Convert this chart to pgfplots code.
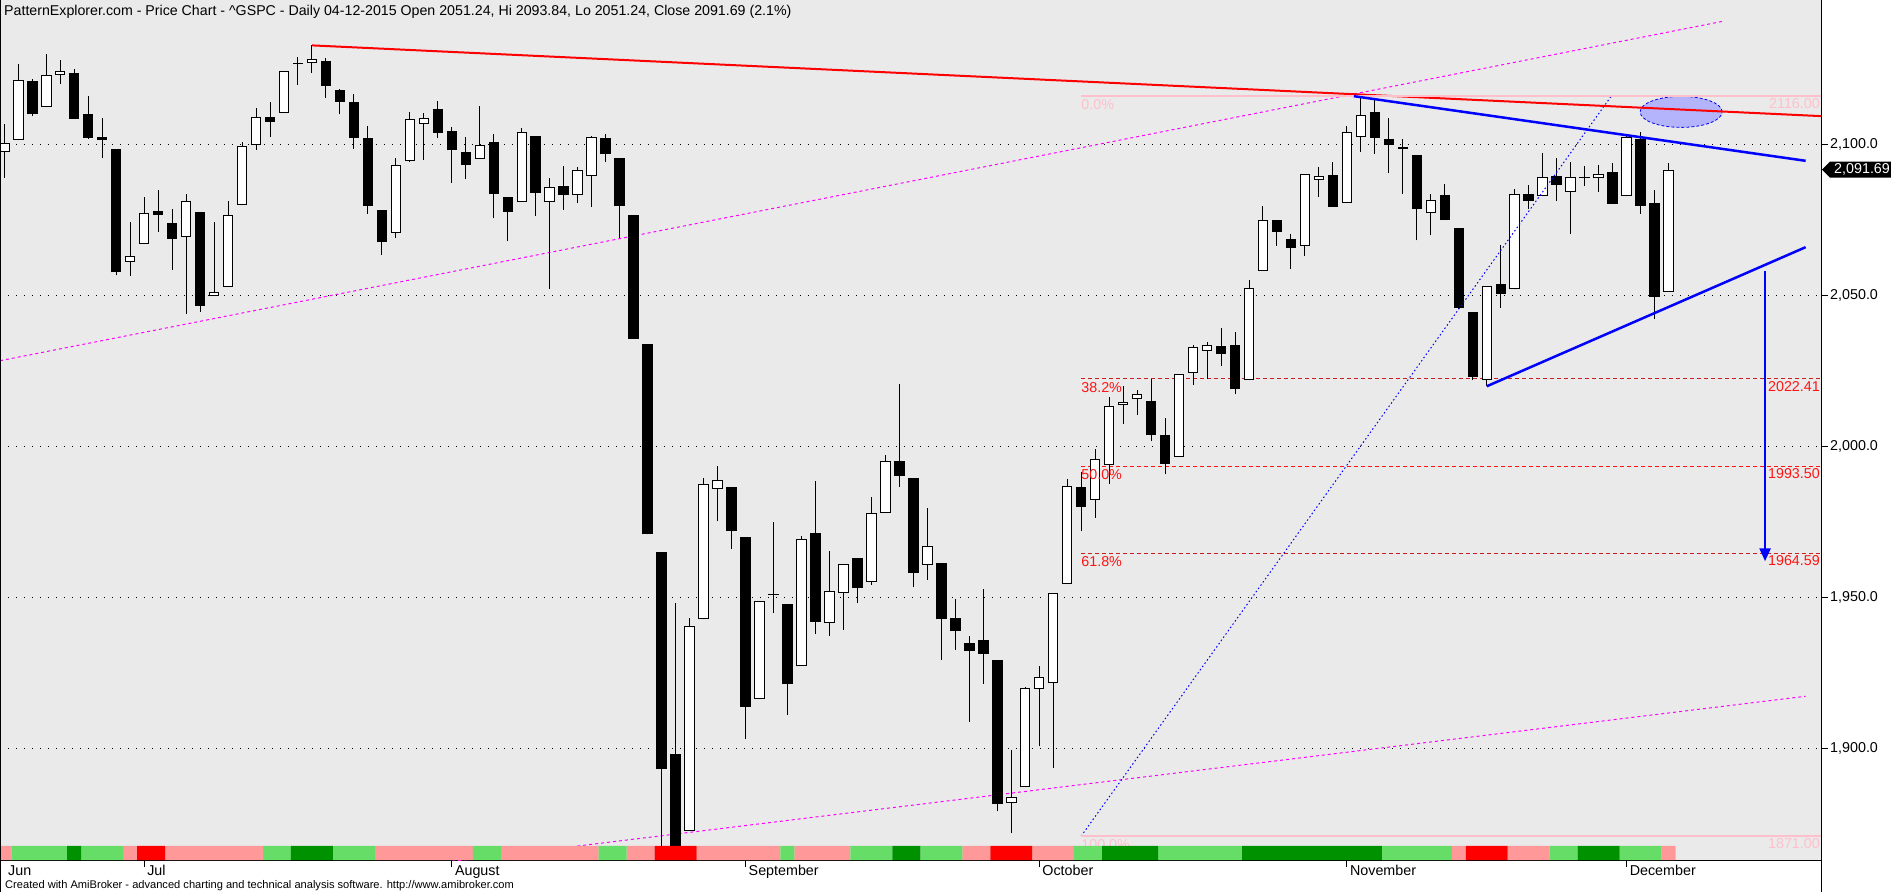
\documentclass[border=0pt]{standalone}
\usepackage{pgfplots}
\pgfplotsset{compat=1.18}
\usepackage{pgfplotstable}
\usepackage{fontspec}
\setmainfont{Liberation Sans}
\usetikzlibrary{arrows.meta}
\definecolor{bg}{RGB}{234,234,234}
\definecolor{lgreen}{RGB}{102,221,102}
\definecolor{dgreen}{RGB}{0,145,0}
\definecolor{lred}{RGB}{255,153,153}
\definecolor{fibpink}{RGB}{255,192,203}
\definecolor{fibred}{RGB}{255,20,20}
\definecolor{fibdark}{RGB}{200,30,30}
\definecolor{ellfill}{RGB}{180,180,252}
\definecolor{magentaline}{RGB}{255,0,255}

\pgfplotstableread{
i O H L C
0 2097.40 2106.79 2088.86 2100.44
1 2101.58 2126.65 2101.58 2121.24
2 2121.06 2121.64 2109.45 2109.99
3 2112.50 2129.87 2112.50 2122.85
4 2123.16 2128.03 2119.89 2124.20
5 2123.65 2125.10 2108.58 2108.58
6 2109.96 2116.04 2101.78 2102.31
7 2102.62 2108.92 2095.38 2101.49
8 2098.63 2098.63 2056.64 2057.64
9 2061.19 2074.28 2056.32 2063.11
10 2067.00 2082.78 2067.00 2077.42
11 2078.03 2085.06 2071.02 2076.78
12 2073.95 2078.61 2058.40 2068.76
13 2069.52 2083.74 2044.02 2081.34
14 2077.66 2077.66 2044.66 2046.68
15 2049.73 2074.28 2049.73 2051.31
16 2052.74 2081.31 2052.74 2076.62
17 2080.03 2100.67 2080.03 2099.60
18 2099.72 2111.98 2098.30 2108.95
19 2109.02 2114.14 2102.49 2107.40
20 2110.55 2124.42 2110.55 2124.29
21 2126.80 2128.91 2119.70 2126.64
22 2126.85 2132.82 2123.66 2128.28
23 2127.55 2128.72 2115.40 2119.21
24 2118.21 2118.51 2110.00 2114.15
25 2114.16 2116.87 2098.63 2102.15
26 2102.24 2106.01 2077.09 2079.65
27 2078.19 2078.19 2063.52 2067.64
28 2070.75 2095.60 2069.09 2093.25
29 2094.70 2110.60 2094.08 2108.57
30 2106.78 2110.48 2094.97 2108.63
31 2111.60 2114.24 2102.07 2103.84
32 2104.49 2105.70 2087.31 2098.04
33 2097.68 2102.51 2088.60 2093.32
34 2095.27 2112.66 2095.27 2099.84
35 2100.75 2103.32 2075.53 2083.56
36 2082.61 2082.61 2067.91 2077.57
37 2080.98 2105.35 2080.98 2104.18
38 2102.66 2102.66 2076.49 2084.07
39 2081.10 2089.06 2052.09 2086.05
40 2086.19 2092.93 2078.26 2083.39
41 2083.15 2092.45 2080.61 2091.54
42 2089.70 2102.87 2079.30 2102.44
43 2101.99 2103.47 2094.14 2096.92
44 2095.69 2095.69 2069.09 2079.61
45 2076.61 2076.61 2035.73 2035.73
46 2034.08 2034.08 1970.89 1970.89
47 1965.15 1965.15 1867.01 1893.21
48 1898.08 1948.04 1867.08 1867.61
49 1872.75 1943.09 1872.75 1940.51
50 1942.77 1989.60 1942.77 1987.66
51 1986.06 1993.48 1975.19 1988.87
52 1986.73 1986.73 1965.98 1972.18
53 1970.09 1970.09 1903.07 1913.85
54 1916.52 1948.91 1916.52 1948.86
55 1950.79 1975.01 1944.72 1951.13
56 1947.76 1947.76 1911.21 1921.22
57 1927.30 1970.42 1927.30 1969.41
58 1971.45 1988.63 1937.88 1942.04
59 1941.59 1965.29 1937.19 1952.29
60 1951.45 1961.05 1939.19 1961.05
61 1963.06 1963.06 1948.27 1953.03
62 1955.10 1983.19 1954.30 1978.09
63 1978.02 1997.26 1977.93 1995.31
64 1995.33 2020.86 1986.73 1990.20
65 1989.66 1989.66 1953.45 1958.03
66 1960.84 1979.64 1955.80 1966.97
67 1961.39 1961.39 1929.22 1942.74
68 1943.24 1949.52 1932.57 1938.76
69 1934.81 1937.17 1908.92 1932.24
70 1935.93 1952.89 1921.50 1931.34
71 1929.18 1929.18 1879.21 1881.77
72 1881.90 1899.48 1871.91 1884.09
73 1887.14 1920.53 1887.14 1920.03
74 1919.65 1927.21 1900.70 1923.82
75 1921.77 1951.36 1893.70 1951.36
76 1954.33 1989.17 1954.33 1987.05
77 1986.63 1991.62 1971.99 1979.92
78 1982.34 1999.31 1976.44 1995.83
79 1994.01 2016.50 1987.53 2013.43
80 2013.73 2020.13 2007.61 2014.89
81 2015.65 2018.66 2010.55 2017.46
82 2015.00 2022.34 2001.78 2003.69
83 2003.66 2009.56 1990.73 1994.24
84 1996.47 2024.15 1996.47 2023.86
85 2024.37 2033.54 2020.46 2033.11
86 2031.73 2034.45 2022.31 2033.66
87 2033.13 2039.12 2026.61 2030.77
88 2033.47 2037.97 2017.22 2018.94
89 2021.88 2055.20 2021.88 2052.51
90 2058.19 2079.74 2058.19 2075.15
91 2075.08 2075.14 2066.53 2071.18
92 2068.75 2070.37 2058.84 2065.89
93 2066.48 2090.35 2063.11 2090.35
94 2088.35 2092.52 2082.63 2089.41
95 2090.00 2094.32 2079.34 2079.36
96 2080.76 2106.20 2080.76 2104.05
97 2102.63 2116.48 2097.51 2109.79
98 2110.60 2114.59 2096.98 2102.31
99 2101.68 2108.78 2090.41 2099.93
100 2098.60 2101.91 2083.74 2099.20
101 2096.56 2096.56 2068.24 2078.58
102 2077.19 2083.67 2069.91 2081.72
103 2083.41 2086.94 2074.85 2075.00
104 2072.29 2072.29 2045.66 2045.97
105 2044.64 2044.64 2022.02 2023.04
106 2022.08 2053.22 2019.94 2053.19
107 2053.67 2066.69 2045.90 2050.44
108 2051.99 2085.31 2051.99 2083.58
109 2083.70 2086.74 2078.76 2081.24
110 2082.82 2097.06 2082.82 2089.17
111 2089.41 2095.61 2081.39 2086.59
112 2084.42 2094.12 2070.29 2089.14
113 2089.30 2093.00 2086.30 2088.87
114 2088.82 2093.29 2084.13 2090.11
115 2090.95 2093.81 2080.41 2080.41
116 2082.93 2103.37 2082.93 2102.63
117 2101.71 2104.27 2077.11 2079.51
118 2080.71 2085.00 2042.35 2049.62
119 2051.24 2093.84 2051.24 2091.69
}\spx

\begin{document}
\begin{tikzpicture}
\fill[white] (0,0) rectangle (1891pt,892pt);
\useasboundingbox (0,0) rectangle (1891pt,892pt);
\begin{axis}[
  at={(0pt,32pt)}, anchor=south west,
  width=1821pt, height=860pt, scale only axis,
  xmin=-0.307, xmax=129.9, ymin=1863.08, ymax=2147.85,
  axis background/.style={fill=bg},
  axis x line*=bottom, axis y line*=right,
  axis line style={line width=1pt, black, -},
  xtick={-0.307,10,32,53,74,96,116},
  xticklabels={\hspace{5pt}Jun,Jul,August,September,October,November,December},
  ytick={1900,1950,2000,2050,2100},
  yticklabels={{1,900.0},{1,950.0},{2,000.0},{2,050.0},{2,100.0}},
  tick align=outside, major tick length=7pt,
  tick style={black, line width=1pt},
  ymajorgrids, major grid style={black, line width=1pt, dash pattern=on 1pt off 7pt},
  ticklabel style={font=\fontsize{14.3}{16}\selectfont},
  xticklabel style={anchor=north west, inner sep=0pt, xshift=3pt, yshift=2pt},
  yticklabel style={anchor=west, inner sep=0pt, xshift=2pt},
  clip=true,
]
% fib dashed levels
\addplot[fibdark, line width=1pt, dash pattern=on 4pt off 3pt] coordinates {(77,2022.41) (129.9,2022.41)};
\addplot[fibred, line width=1pt, dash pattern=on 4pt off 3pt] coordinates {(77,1993.50) (129.9,1993.50)};
\addplot[fibdark, line width=1pt, dash pattern=on 4pt off 3pt] coordinates {(77,1964.59) (129.9,1964.59)};
% magenta channel
\addplot[magentaline, line width=1pt, dash pattern=on 3pt off 3pt] coordinates {(-0.307,2028.4) (123.0,2140.9)};
\addplot[magentaline, line width=1pt, dash pattern=on 3pt off 3pt] coordinates {(31.6,1862.4) (128.8,1917.3)};
% wicks
\addplot[draw=none, mark=none, forget plot, error bars/.cd, y dir=plus, y explicit, error mark=none,
  error bar style={draw=black, line width=1pt, solid}]
  table[x=i, y=L, y error expr=\thisrow{H}-\thisrow{L}] {\spx};
% bodies
\addplot[draw=none, mark=none, forget plot, error bars/.cd, y dir=plus, y explicit, error mark=none,
  error bar style={draw=black, line width=10.5pt, solid}]
  table[x=i, y expr={min(\thisrow{O},\thisrow{C})}, y error expr={max(abs(\thisrow{C}-\thisrow{O}),0.4)}] {\spx};
\addplot[draw=none, mark=none, forget plot, error bars/.cd, y dir=plus, y explicit, error mark=none,
  error bar style={draw=white, line width=8.5pt, solid}]
  table[x=i, y expr={min(\thisrow{O},\thisrow{C})+0.33}, y error expr={(\thisrow{C}>\thisrow{O})*max(\thisrow{C}-\thisrow{O}-0.66,0)}] {\spx};
% blue dotted
\addplot[blue, line width=1pt, dash pattern=on 1.5pt off 2.5pt] coordinates {(77,1871) (114.9,2116)};
% ellipse
\draw[blue, line width=0.8pt, densely dashed, fill=ellfill] (axis cs:119.9,2110.8) ellipse [x radius=41pt, y radius=15.5pt];
% red trend
\addplot[red, line width=2pt] coordinates {(22,2132.82) (129.9,2109.4)};
% fib 0 and 100
\addplot[fibpink, line width=2pt] coordinates {(77,2116) (129.9,2116)};
\addplot[fibpink, line width=2pt] coordinates {(77,1871) (129.9,1871)};
% blue triangle lines
\addplot[blue, line width=2.5pt] coordinates {(96.5,2116.0) (128.8,2094.6)};
\addplot[blue, line width=2.5pt] coordinates {(106,2019.94) (128.8,2066.0)};
\addplot[blue, line width=2.5pt, -{Triangle[length=13pt,width=11pt]}] coordinates {(125.9,2058) (125.9,1962)};
% fib labels
\node[anchor=north west, inner sep=0pt, text=fibpink, font=\fontsize{14.3}{16}\selectfont] at ([yshift=-3pt]axis cs:77,2116) {0.0\%};
\node[anchor=north west, inner sep=0pt, text=fibred, font=\fontsize{14.3}{16}\selectfont] at ([yshift=-3pt]axis cs:77,2022.41) {38.2\%};
\node[anchor=north west, inner sep=0pt, text=fibred, font=\fontsize{14.3}{16}\selectfont] at ([yshift=-3pt]axis cs:77,1993.50) {50.0\%};
\node[anchor=north west, inner sep=0pt, text=fibred, font=\fontsize{14.3}{16}\selectfont] at ([yshift=-3pt]axis cs:77,1964.59) {61.8\%};
\node[anchor=north west, inner sep=0pt, text=fibpink, font=\fontsize{14.3}{16}\selectfont] at ([yshift=-3pt]axis cs:77,1871) {100.0\%};
\node[anchor=north east, inner sep=0pt, text=fibpink, font=\fontsize{14.3}{16}\selectfont] at ([xshift=-1pt,yshift=-2pt]axis cs:129.9,2116) {2116.00};
\node[anchor=north east, inner sep=0pt, text=fibred, font=\fontsize{14.3}{16}\selectfont] at ([xshift=-1pt,yshift=-2pt]axis cs:129.9,2022.41) {2022.41};
\node[anchor=north east, inner sep=0pt, text=fibred, font=\fontsize{14.3}{16}\selectfont] at ([xshift=-1pt,yshift=-2pt]axis cs:129.9,1993.50) {1993.50};
\node[anchor=north east, inner sep=0pt, text=fibred, font=\fontsize{14.3}{16}\selectfont] at ([xshift=-1pt,yshift=-2pt]axis cs:129.9,1964.59) {1964.59};
\node[anchor=north east, inner sep=0pt, text=fibpink, font=\fontsize{14.3}{16}\selectfont] at ([xshift=-1pt,yshift=-2pt]axis cs:129.9,1871) {1871.00};
% ribbon
\addplot[ybar, bar width=1, bar shift=0pt, fill=lred, draw=none] coordinates {
(0,1867.72) (9,1867.72) (12,1867.72) (13,1867.72) (14,1867.72) (15,1867.72) (16,1867.72) (17,1867.72) (18,1867.72)
(27,1867.72) (28,1867.72) (29,1867.72) (30,1867.72) (31,1867.72) (32,1867.72) (33,1867.72)
(36,1867.72) (37,1867.72) (38,1867.72) (39,1867.72) (40,1867.72) (41,1867.72) (42,1867.72)
(45,1867.72) (46,1867.72) (50,1867.72) (51,1867.72) (52,1867.72) (53,1867.72) (54,1867.72) (55,1867.72)
(57,1867.72) (58,1867.72) (59,1867.72) (60,1867.72) (69,1867.72) (70,1867.72) (74,1867.72) (75,1867.72) (76,1867.72)
(104,1867.72) (108,1867.72) (109,1867.72) (110,1867.72) (119,1867.72)};
\addplot[ybar, bar width=1, bar shift=0pt, fill=lgreen, draw=none] coordinates {
(1,1867.72) (2,1867.72) (3,1867.72) (4,1867.72) (6,1867.72) (7,1867.72) (8,1867.72) (19,1867.72) (20,1867.72)
(24,1867.72) (25,1867.72) (26,1867.72) (34,1867.72) (35,1867.72) (43,1867.72) (44,1867.72) (56,1867.72)
(61,1867.72) (62,1867.72) (63,1867.72) (66,1867.72) (67,1867.72) (68,1867.72) (77,1867.72) (78,1867.72)
(83,1867.72) (84,1867.72) (85,1867.72) (86,1867.72) (87,1867.72) (88,1867.72)
(99,1867.72) (100,1867.72) (101,1867.72) (102,1867.72) (103,1867.72) (111,1867.72) (112,1867.72)
(116,1867.72) (117,1867.72) (118,1867.72)};
\addplot[ybar, bar width=1, bar shift=0pt, fill=dgreen, draw=none] coordinates {
(5,1867.72) (21,1867.72) (22,1867.72) (23,1867.72) (64,1867.72) (65,1867.72) (79,1867.72) (80,1867.72) (81,1867.72) (82,1867.72)
(89,1867.72) (90,1867.72) (91,1867.72) (92,1867.72) (93,1867.72) (94,1867.72) (95,1867.72) (96,1867.72) (97,1867.72) (98,1867.72)
(113,1867.72) (114,1867.72) (115,1867.72)};
\addplot[ybar, bar width=1, bar shift=0pt, fill=red, draw=none] coordinates {
(10,1867.72) (11,1867.72) (47,1867.72) (48,1867.72) (49,1867.72) (71,1867.72) (72,1867.72) (73,1867.72)
(105,1867.72) (106,1867.72) (107,1867.72)};
\coordinate (tag) at (axis cs:129.9,2091.69);
\end{axis}
% frame extensions
\draw[line width=1pt] (0.5pt,0pt) -- (0.5pt,892pt);
\draw[line width=1pt] (1821pt,0pt) -- (1821pt,32pt);
% price tag
\fill[black] ([xshift=1pt]tag) -- ++(8pt,8pt) -- ++(62pt,0) -- ++(0,-16pt) -- ++(-62pt,0) -- cycle;
\node[anchor=west, inner sep=0pt, text=white, font=\fontsize{14.3}{16}\selectfont] at ([xshift=13pt]tag) {2,091.69};
% title
\node[anchor=base west, inner sep=0pt, font=\fontsize{14.2}{16}\selectfont] at (4pt,876pt)
  {PatternExplorer.com - Price Chart - \string^GSPC - Daily 04-12-2015 Open 2051.24, Hi 2093.84, Lo 2051.24, Close 2091.69 (2.1\%)};
% caption
\node[anchor=base west, inner sep=0pt, font=\fontsize{11.1}{13}\selectfont] at (5pt,4pt)
  {Created with AmiBroker - advanced charting and technical analysis software. http://www.amibroker.com};
\end{tikzpicture}
\end{document}
